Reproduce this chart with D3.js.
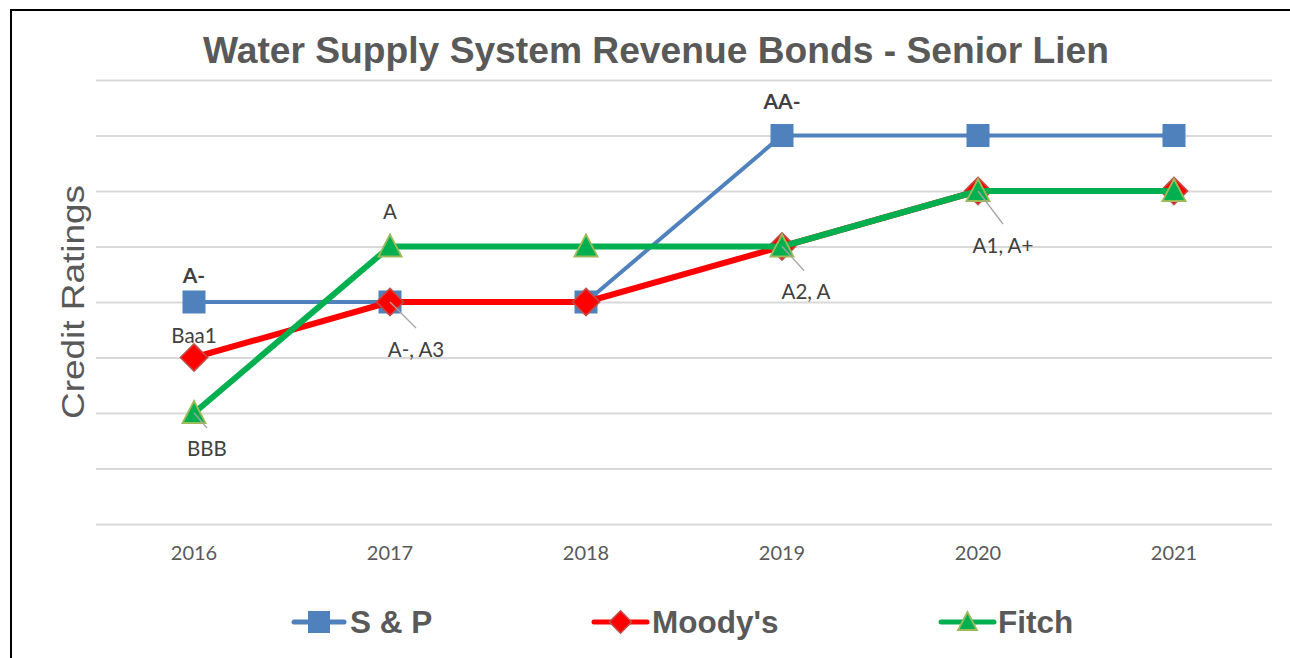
<!DOCTYPE html>
<html>
<head>
<meta charset="utf-8">
<script src="https://cdn.jsdelivr.net/npm/d3@7"></script>
<style>
  html, body { margin: 0; padding: 0; background: #fff; }
  svg { display: block; }
</style>
</head>
<body>
<svg id="chart" width="1290" height="658"></svg>
<script>
// ---- Data ----
const years = ["2016", "2017", "2018", "2019", "2020", "2021"];
// Rating levels: 0..8 on the (hidden) rating scale; 2 = BBB/Baa2, 3 = BBB+/Baa1, 4 = A-/A3, 5 = A/A2, 6 = A+/A1, 7 = AA-/Aa3
const ratingLevels = [0, 1, 2, 3, 4, 5, 6, 7, 8];
const spValues     = [4, 4, 4, 7, 7, 7];
const moodysValues = [3, 4, 4, 5, 6, 6];
const fitchValues  = [2, 5, 5, 5, 6, 6];
const seriesNames  = ["S & P", "Moody's", "Fitch"];
// data labels: [series index, year index, text]
const labelTexts = [
  [0, 0, "A-"],
  [1, 0, "Baa1"],
  [2, 0, "BBB"],
  [2, 1, "A"],
  [1, 1, "A-, A3"],
  [0, 3, "AA-"],
  [2, 3, "A2, A"],
  [2, 4, "A1, A+"]
];

// ---- Layout / style ----
const W = 1290, H = 658;
const plot = { left: 96, right: 1272, top: 80, bottom: 524 };
const styles = [
  { color: "#4f81bd", width: 4, marker: "square", fill: "#4f81bd", stroke: "#4f81bd" },
  { color: "#ff0000", width: 6, marker: "diamond", fill: "#ff0000", stroke: "#c0504d" },
  { color: "#00b050", width: 6, marker: "triangle", fill: "#00b050", stroke: "#9bbb59" }
];
// label layout: dx, dy (text centre offset from point), bold, leader end offset (or null)
const labelLayout = [
  { dx: 0,  dy: -26, bold: true,  leader: null },
  { dx: 0,  dy: -22, bold: false, leader: null },
  { dx: 13, dy: 36,  bold: false, leader: [13, 15] },
  { dx: 0,  dy: -35, bold: false, leader: null },
  { dx: 26, dy: 48,  bold: false, leader: [26, 26] },
  { dx: 0,  dy: -34, bold: true,  leader: null },
  { dx: 24, dy: 45,  bold: false, leader: [22, 24] },
  { dx: 25, dy: 55,  bold: false, leader: [25, 33] }
];
const legendLayout = [
  { x0: 294, x1: 344, tx: 350 },
  { x0: 594, x1: 647, tx: 652 },
  { x0: 941, x1: 994, tx: 998 }
];

const svg = d3.select("#chart");
svg.append("rect").attr("width", W).attr("height", H).attr("fill", "#fff");

const x = d3.scaleBand().domain(years).range([plot.left, plot.right]);
const y = d3.scaleLinear().domain([d3.min(ratingLevels), d3.max(ratingLevels)]).range([plot.bottom, plot.top]);
const cx = yr => x(yr) + x.bandwidth() / 2;

// gridlines via axis
const yAxis = d3.axisLeft(y).tickValues(ratingLevels).tickSize(-(plot.right - plot.left)).tickFormat("");
const gy = svg.append("g").attr("transform", `translate(${plot.left},0)`).call(yAxis);
gy.select(".domain").remove();
gy.selectAll(".tick line").attr("stroke", "#d9d9d9").attr("stroke-width", 2);

// x axis labels
const xAxis = d3.axisBottom(x).tickSize(0).tickPadding(0);
const gx = svg.append("g").attr("transform", `translate(0,${plot.bottom})`).call(xAxis);
gx.select(".domain").remove();
gx.selectAll(".tick text")
  .attr("y", 36).attr("dy", 0)
  .attr("font-family", "Lato, 'Open Sans', sans-serif")
  .attr("font-size", 20).attr("fill", "#595959");

// title
svg.append("text").attr("x", 656).attr("y", 63).attr("text-anchor", "middle")
  .attr("font-family", "'Liberation Sans', Arial, sans-serif").attr("font-weight", "bold")
  .attr("font-size", 36).attr("fill", "#595959")
  .attr("textLength", 906).attr("lengthAdjust", "spacingAndGlyphs")
  .text("Water Supply System Revenue Bonds - Senior Lien");

// y axis title
svg.append("text").attr("transform", "translate(84,302) rotate(-90)").attr("text-anchor", "middle")
  .attr("font-family", "'Liberation Sans', Arial, sans-serif")
  .attr("font-size", 32).attr("fill", "#595959")
  .attr("textLength", 234).attr("lengthAdjust", "spacingAndGlyphs")
  .text("Credit Ratings");

const allSeries = [spValues, moodysValues, fitchValues];

function drawMarker(g, type, st, px, py, s) {
  if (type === "square") {
    g.append("rect").attr("x", px - s / 2).attr("y", py - s / 2).attr("width", s).attr("height", s)
      .attr("fill", st.fill).attr("stroke", st.stroke).attr("stroke-width", 1);
  } else if (type === "diamond") {
    const r = s * 0.62;
    g.append("path").attr("d", `M${px},${py - r}L${px + r},${py}L${px},${py + r}L${px - r},${py}Z`)
      .attr("fill", st.fill).attr("stroke", st.stroke).attr("stroke-width", 1.5);
  } else {
    const h = s, w = s * 1.05;
    g.append("path").attr("d", `M${px},${py - h / 2 - 1}L${px + w / 2},${py + h / 2 - 1}L${px - w / 2},${py + h / 2 - 1}Z`)
      .attr("fill", st.fill).attr("stroke", st.stroke).attr("stroke-width", 1.8).attr("stroke-linejoin", "miter");
  }
}

const line = d3.line().x((d, i) => cx(years[i])).y(d => y(d));
allSeries.forEach((vals, si) => {
  const st = styles[si];
  const g = svg.append("g");
  g.append("path").datum(vals).attr("d", line).attr("fill", "none")
    .attr("stroke", st.color).attr("stroke-width", st.width).attr("stroke-linejoin", "round").attr("stroke-linecap", "round");
  vals.forEach((v, i) => drawMarker(g, st.marker, st, cx(years[i]), y(v), 22));
});

// data labels
labelTexts.forEach((lt, k) => {
  const [si, yi, txt] = lt;
  const lay = labelLayout[k];
  const px = cx(years[yi]), py = y(allSeries[si][yi]);
  if (lay.leader) {
    svg.append("line").attr("x1", px).attr("y1", py).attr("x2", px + lay.leader[0]).attr("y2", py + lay.leader[1])
      .attr("stroke", "#a6a6a6").attr("stroke-width", 1.3);
  }
  svg.append("text").attr("x", px + lay.dx).attr("y", py + lay.dy).attr("dy", "0.35em")
    .attr("text-anchor", "middle")
    .attr("font-family", "Lato, 'Open Sans', sans-serif")
    .attr("font-weight", lay.bold ? "bold" : "normal")
    .attr("font-size", lay.bold ? 21 : 20.5).attr("fill", "#404040").text(txt);
});

// legend
const ly = 622;
seriesNames.forEach((name, si) => {
  const st = styles[si], L = legendLayout[si];
  const g = svg.append("g");
  g.append("line").attr("x1", L.x0).attr("x2", L.x1).attr("y1", ly).attr("y2", ly)
    .attr("stroke", st.color).attr("stroke-width", 5).attr("stroke-linecap", "round");
  drawMarker(g, st.marker, st, (L.x0 + L.x1) / 2, ly, si === 0 ? 21 : 18);
  g.append("text").attr("x", L.tx).attr("y", ly + 11)
    .attr("font-family", "'Liberation Sans', Arial, sans-serif").attr("font-weight", "bold")
    .attr("font-size", 31.5).attr("fill", "#595959").text(name);
});

// border (left + top)
svg.append("line").attr("x1", 11).attr("x2", 11).attr("y1", 9).attr("y2", H).attr("stroke", "#000").attr("stroke-width", 2);
svg.append("line").attr("x1", 10).attr("x2", W).attr("y1", 10).attr("y2", 10).attr("stroke", "#000").attr("stroke-width", 2);
</script>
</body>
</html>
